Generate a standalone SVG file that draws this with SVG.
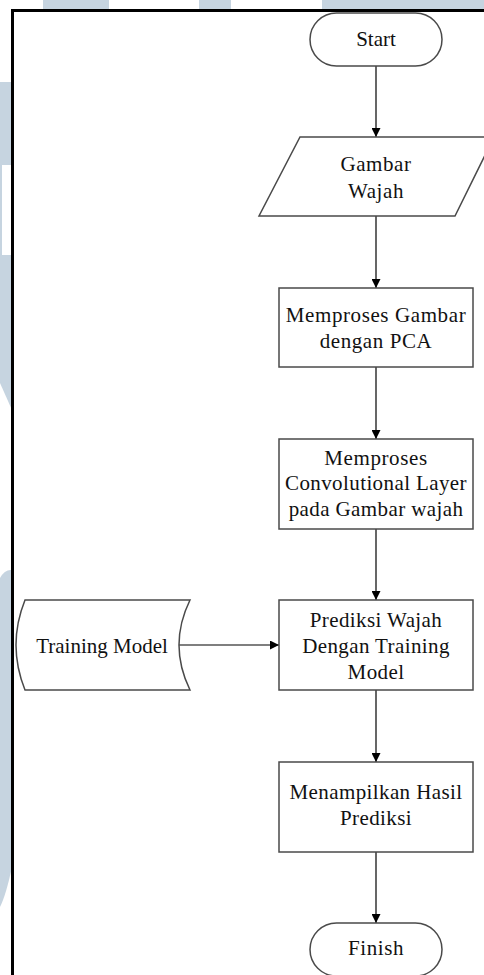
<svg xmlns="http://www.w3.org/2000/svg" width="484" height="975" viewBox="0 0 484 975">
<defs>
<style>
.wm{fill:#c6d4e0;stroke:none}
.shape{fill:#ffffff;stroke:#4a4a4a;stroke-width:1.5}
.conn{fill:none;stroke:#000000;stroke-width:1.2}
.t{font-family:"Liberation Serif","Times New Roman",serif;font-size:21px;fill:#111111;text-anchor:middle}
</style>
<marker id="arr" markerWidth="9" markerHeight="9" refX="9" refY="4.5" orient="auto" markerUnits="userSpaceOnUse">
<path d="M0,0 L9,4.5 L0,9 Z" fill="#000000"/>
</marker>
</defs>
<rect x="0" y="0" width="484" height="975" fill="#ffffff"/>
<g id="watermark">
<rect class="wm" x="43" y="0" width="66" height="10"/>
<rect class="wm" x="199" y="0" width="32" height="10"/>
<rect class="wm" x="322" y="0" width="162" height="10"/>
<path class="wm" d="M0,82 L12,82 L12,410 L0,383 Z"/>
<rect x="2" y="165" width="10" height="90" fill="#ffffff"/>
<path class="wm" d="M0,578 Q5,569 12,570 L12,867 Q6,895 0,907 Z"/>
</g>
<g id="frame">
<path d="M12.5,975 L12.5,10.5 L484,10.5" fill="none" stroke="#000000" stroke-width="3"/>
</g>
<g id="connectors">
<line class="conn" x1="376" y1="66" x2="376" y2="137" marker-end="url(#arr)"/>
<line class="conn" x1="376" y1="216" x2="376" y2="288" marker-end="url(#arr)"/>
<line class="conn" x1="376" y1="367" x2="376" y2="439" marker-end="url(#arr)"/>
<line class="conn" x1="376" y1="529" x2="376" y2="600" marker-end="url(#arr)"/>
<line class="conn" x1="179" y1="645" x2="279" y2="645" marker-end="url(#arr)"/>
<line class="conn" x1="376" y1="690" x2="376" y2="762" marker-end="url(#arr)"/>
<line class="conn" x1="376" y1="852" x2="376" y2="923" marker-end="url(#arr)"/>
</g>
<g id="start">
<rect class="shape" x="310" y="13" width="132" height="53" rx="26.5" ry="26.5"/>
<text class="t" x="376" y="46">Start</text>
</g>
<g id="gambar-wajah">
<path class="shape" d="M300,137 L494,137 L455,216 L259,216 Z"/>
<text class="t" x="376" y="171" letter-spacing="0.6">Gambar</text>
<text class="t" x="376" y="198" letter-spacing="0.6">Wajah</text>
</g>
<g id="pca">
<rect class="shape" x="279" y="288" width="194" height="79"/>
<text class="t" x="376" y="322" letter-spacing="0.6">Memproses Gambar</text>
<text class="t" x="376" y="348" letter-spacing="0.6">dengan PCA</text>
</g>
<g id="conv">
<rect class="shape" x="279" y="439" width="194" height="90"/>
<text class="t" x="376" y="465" letter-spacing="0.6">Memproses</text>
<text class="t" x="376" y="490" letter-spacing="0.4">Convolutional Layer</text>
<text class="t" x="376" y="516" letter-spacing="0.4">pada Gambar wajah</text>
</g>
<g id="training-model">
<path class="shape" d="M25,600 L190,600 Q168,645 190,690 L25,690 Q7,645 25,600 Z"/>
<text class="t" x="102" y="653">Training Model</text>
</g>
<g id="prediksi">
<rect class="shape" x="279" y="600" width="194" height="90"/>
<text class="t" x="376" y="627" letter-spacing="0.4">Prediksi Wajah</text>
<text class="t" x="376" y="653" letter-spacing="0.4">Dengan Training</text>
<text class="t" x="376" y="679" letter-spacing="0.4">Model</text>
</g>
<g id="hasil">
<rect class="shape" x="279" y="762" width="194" height="90"/>
<text class="t" x="376" y="799" letter-spacing="0.4">Menampilkan Hasil</text>
<text class="t" x="376" y="825" letter-spacing="0.4">Prediksi</text>
</g>
<g id="finish">
<rect class="shape" x="310" y="923" width="132" height="53" rx="26.5" ry="26.5"/>
<text class="t" x="376" y="955" letter-spacing="0.6">Finish</text>
</g>
</svg>
